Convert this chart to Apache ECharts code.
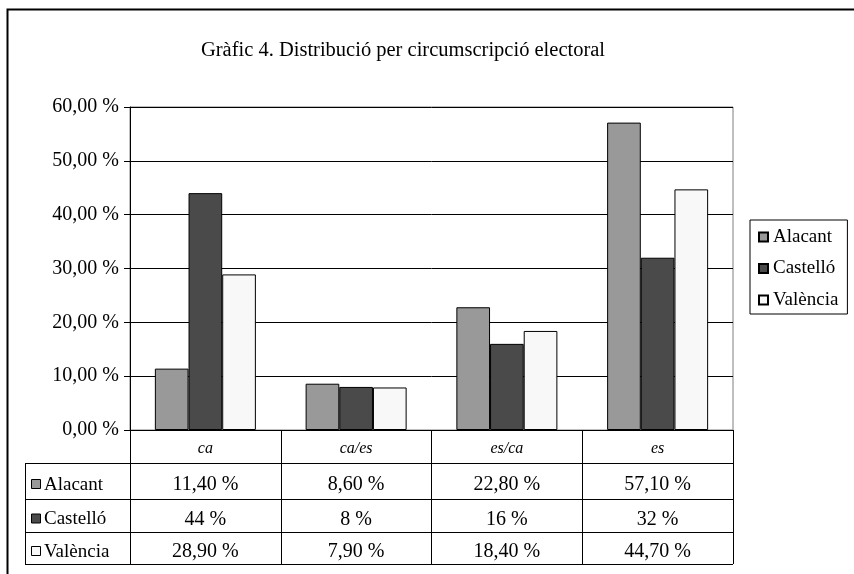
<!DOCTYPE html>
<html><head><meta charset="utf-8">
<script src="https://cdn.jsdelivr.net/npm/echarts@6/dist/echarts.min.js"></script>
<style>html,body{margin:0;padding:0;background:#fff}#c{width:854px;height:574px}</style>
</head><body><div id="c"></div>
<script>
const titleText = 'Gràfic 4. Distribució per circumscripció electoral';
const categories = ['ca', 'ca/es', 'es/ca', 'es'];
const seriesNames = ['Alacant', 'Castelló', 'València'];
const alacant = [11.4, 8.6, 22.8, 57.1];
const castello = [44, 8, 16, 32];
const valencia = [28.9, 7.9, 18.4, 44.7];
const colors = ['#999999', '#4a4a4a', '#f8f8f8'];
const yMin = 0, yMax = 60, yStep = 10;

const FONT = '"Liberation Serif", "DejaVu Serif", serif';
const allData = [alacant, castello, valencia];

function fmtPct(v) {
  return Number.isInteger(v) ? v + ' %' : v.toFixed(2).replace('.', ',') + ' %';
}

const chart = echarts.init(document.getElementById('c'), null, {renderer: 'canvas'});
const gridL = 130, gridR = 733, gridT = 107, gridB = 430;
const rowLines = [430, 463, 499, 532, 564];
const tableLeft = 25;

chart.setOption({
  animation: false,
  backgroundColor: '#fff',
  textStyle: {fontFamily: FONT},
  title: {
    text: titleText, left: 398, top: 35, textAlign: 'center',
    textStyle: {fontFamily: FONT, fontSize: 20.5, fontWeight: 'normal', color: '#000'}
  },
  legend: {
    orient: 'vertical', left: 750, top: 220, width: 98,
    padding: [7, 9, 4, 8], itemGap: 11.5,
    borderColor: '#000', borderWidth: 1,
    icon: 'rect', itemWidth: 9, itemHeight: 9,
    textStyle: {fontFamily: FONT, fontSize: 19, color: '#000', lineHeight: 20},
    data: seriesNames
  },
  grid: {
    left: gridL, top: gridT, width: gridR - gridL, height: gridB - gridT,
    show: true, borderColor: '#7f7f7f', borderWidth: 1, containLabel: false
  },
  xAxis: {
    type: 'category', data: categories,
    axisLine: {lineStyle: {color: '#000', width: 1}},
    axisTick: {show: true, length: rowLines[4] - rowLines[0], interval: 0, lineStyle: {color: '#000'}},
    axisLabel: {fontFamily: FONT, fontSize: 16, fontStyle: 'italic', color: '#000', margin: 11, interval: 0}
  },
  yAxis: {
    type: 'value', min: yMin, max: yMax, interval: yStep,
    axisLine: {show: true, lineStyle: {color: '#000'}},
    axisTick: {show: true, length: 6, lineStyle: {color: '#000'}},
    splitLine: {show: true, lineStyle: {color: '#000', width: 1}},
    axisLabel: {fontFamily: FONT, fontSize: 20, color: '#000', margin: 11,
      formatter: v => v.toFixed(2).replace('.', ',') + ' %'}
  },
  series: seriesNames.map((n, i) => ({
    name: n, type: 'bar', data: allData[i],
    barGap: '0%', barCategoryGap: '33%',
    itemStyle: {color: colors[i], borderColor: '#000', borderWidth: 1}
  }))
});

// Build data table from arrays using the axis scale for column centres
const g = [];
g.push({type: 'rect', shape: {x: 7.5, y: 9.5, width: 1000, height: 1000},
  style: {fill: null, stroke: '#000', lineWidth: 2}, z: 100});
for (let r = 1; r < rowLines.length; r++) {
  g.push({type: 'line', shape: {x1: tableLeft, y1: rowLines[r] + 0.5, x2: gridR, y2: rowLines[r] + 0.5},
    style: {stroke: '#000', lineWidth: 1}, z: 100});
}
g.push({type: 'line', shape: {x1: tableLeft + 0.5, y1: rowLines[1], x2: tableLeft + 0.5, y2: rowLines[4] + 1},
  style: {stroke: '#000', lineWidth: 1}, z: 100});
for (let s = 0; s < seriesNames.length; s++) {
  const cy = (rowLines[s + 1] + rowLines[s + 2]) / 2 + 4;
  g.push({type: 'rect', shape: {x: 31.5, y: cy - 5.5, width: 9, height: 9},
    style: {fill: colors[s], stroke: '#000', lineWidth: 1}, z: 101});
  g.push({type: 'text', x: 44, y: cy, style: {text: seriesNames[s], font: '19px ' + FONT,
    fill: '#000', textAlign: 'left', textVerticalAlign: 'middle'}, z: 101});
  for (let c = 0; c < categories.length; c++) {
    const px = chart.convertToPixel({xAxisIndex: 0}, categories[c]);
    g.push({type: 'text', x: px, y: cy, style: {text: fmtPct(allData[s][c]), font: '20px ' + FONT,
      fill: '#000', textAlign: 'center', textVerticalAlign: 'middle'}, z: 101});
  }
}
chart.setOption({graphic: g});
</script></body></html>
